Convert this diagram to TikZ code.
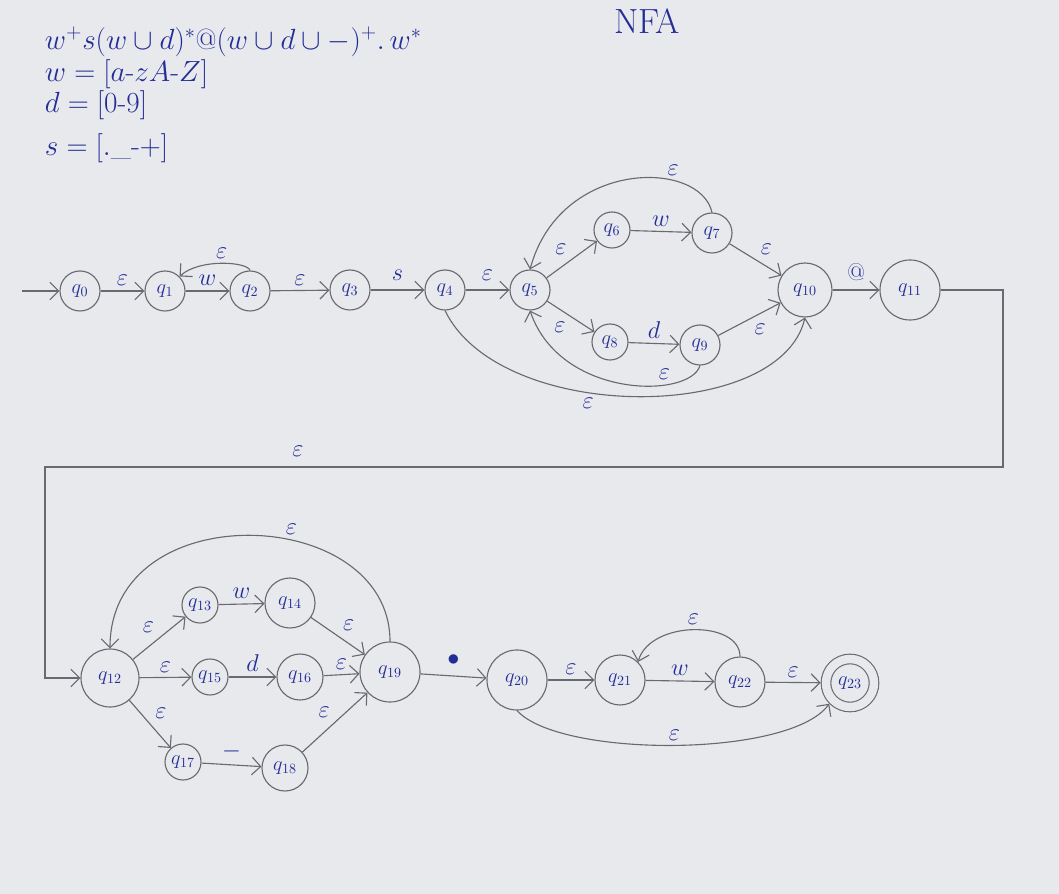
\documentclass[tikz,border=0pt]{standalone}
\usepackage{amsmath}
\usetikzlibrary{arrows.meta}
\definecolor{paper}{RGB}{232,233,237}
\definecolor{ink}{RGB}{35,45,150}
\definecolor{pencil}{RGB}{105,105,112}

\begin{document}
\begin{tikzpicture}[x=0.025cm,y=0.025cm,
  ray/.style={-{Straight Barb[length=2.2mm]},draw=pencil,line width=0.8pt},
  state/.style={circle,draw=pencil,line width=0.8pt,minimum size=1cm,inner sep=0pt,font=\Large,text=ink},
  smallstate/.style={state,minimum size=0.9cm},
  midstate/.style={state,minimum size=1.25cm},
  bigstate/.style={state,minimum size=1.45cm},
  accept/.style={state,minimum size=1.2cm,double=paper,double distance=6pt,outer sep=3.8pt},
  lbl/.style={font=\LARGE,text=ink},
  note/.style={font=\huge,text=ink,anchor=west},
]
\useasboundingbox (0,0) rectangle (1059,894);
\fill[paper] (0,0) rectangle (1059,894);

% regex and definitions
\node[note] (re) at (40,852) {$w^{+}s(w\cup d)^{*}@(w\cup d\cup -)^{+}.\,w^{*}$};
\node[note] (defw) at (40,820) {$w=[a\text{-}zA\text{-}Z]$};
\node[note] (defd) at (40,789) {$d=[0\text{-}9]$};
\node[note] (defs) at (40,746) {$s=[.\_\text{-}+]$};
\node[font=\Huge,text=ink] (title) at (647,873) {NFA};

% first part
\coordinate (start) at (22,603);
\node[state] (q0) at (80,603) {$q_{0}$};
\node[state] (q1) at (165,603) {$q_{1}$};
\node[state] (q2) at (250,603) {$q_{2}$};
\node[state] (q3) at (350,604) {$q_{3}$};
\node[state] (q4) at (445,604) {$q_{4}$};
\node[state] (q5) at (530,604) {$q_{5}$};
\node[smallstate] (q6) at (612,664) {$q_{6}$};
\node[state] (q7) at (712,661) {$q_{7}$};
\node[smallstate] (q8) at (610,552) {$q_{8}$};
\node[state] (q9) at (700,549) {$q_{9}$};
\node[bigstate,minimum size=1.35cm] (q10) at (805,604) {$q_{10}$};
\node[bigstate,minimum size=1.5cm] (q11) at (910,604) {$q_{11}$};

\draw[ray] (start) -- (q0);
\draw[ray] (q0) -- node[lbl,above] {$\varepsilon$} (q1);
\draw[ray] (q1) -- node[lbl,above] {$w$} (q2);
\draw[ray] (q2.north) .. controls (248,632) and (200,636) .. node[lbl,above] {$\varepsilon$} (q1.north east);
\draw[ray] (q2) -- node[lbl,above] {$\varepsilon$} (q3);
\draw[ray] (q3) -- node[lbl,above=3pt] {$s$} (q4);
\draw[ray] (q4) -- node[lbl,above=3pt] {$\varepsilon$} (q5);
\draw[ray] (q5) -- node[lbl,above left] {$\varepsilon$} (q6);
\draw[ray] (q6) -- node[lbl,above] {$w$} (q7);
\draw[ray] (q7.north) .. controls (700,735) and (560,735) .. node[lbl,above,pos=0.3] {$\varepsilon$} (q5.north);
\draw[ray] (q7) -- node[lbl,above right] {$\varepsilon$} (q10);
\draw[ray] (q5) -- node[lbl,below left] {$\varepsilon$} (q8);
\draw[ray] (q8) -- node[lbl,above] {$d$} (q9);
\draw[ray] (q9.south) .. controls (690,495) and (560,495) .. node[lbl,above,pos=0.3] {$\varepsilon$} (q5.south);
\draw[ray] (q9) -- node[lbl,below right] {$\varepsilon$} (q10);
\draw[ray] (q4.south) .. controls (500,470) and (780,470) .. node[lbl,below,pos=0.4] {$\varepsilon$} (q10.south);
\draw[ray] (q10) -- node[lbl,above=3pt] {$@$} (q11);

% link to second part
\coordinate (turnA) at (1003,604);
\coordinate (turnB) at (1003,427);
\coordinate (turnC) at (45,427);
\coordinate (turnD) at (45,216);

% second part
\node[bigstate] (q12) at (110,216) {$q_{12}$};
\node[smallstate] (q13) at (200,289) {$q_{13}$};
\node[midstate] (q14) at (290,291) {$q_{14}$};
\node[smallstate] (q15) at (210,217) {$q_{15}$};
\node[midstate,minimum size=1.15cm] (q16) at (300,217) {$q_{16}$};
\node[smallstate] (q17) at (183,132) {$q_{17}$};
\node[midstate,minimum size=1.15cm] (q18) at (285,126) {$q_{18}$};
\node[bigstate,minimum size=1.5cm] (q19) at (390,222) {$q_{19}$};
\node[bigstate,minimum size=1.5cm] (q20) at (517,214) {$q_{20}$};
\node[midstate] (q21) at (620,214) {$q_{21}$};
\node[midstate] (q22) at (740,212) {$q_{22}$};
\node[accept] (q23) at (850,211) {$q_{23}$};

\draw[ray] (q11.east) -- (turnA) -- (turnB) -- node[lbl,above=4pt,pos=0.736] {$\varepsilon$} (turnC) -- (turnD) -- (q12.west);
\draw[ray] (q12) -- node[lbl,above left] {$\varepsilon$} (q13);
\draw[ray] (q13) -- node[lbl,above] {$w$} (q14);
\draw[ray] (q14) -- node[lbl,above right] {$\varepsilon$} (q19);
\draw[ray] (q12) -- node[lbl,above] {$\varepsilon$} (q15);
\draw[ray] (q15) -- node[lbl,above] {$d$} (q16);
\draw[ray] (q16) -- node[lbl,above] {$\varepsilon$} (q19);
\draw[ray] (q12) -- node[lbl,above right] {$\varepsilon$} (q17);
\draw[ray] (q17) -- node[lbl,above] {$-$} (q18);
\draw[ray] (q18) -- node[lbl,above left] {$\varepsilon$} (q19);
\draw[ray] (q19.north) .. controls (390,390) and (110,400) .. node[lbl,above,pos=0.4] {$\varepsilon$} (q12.north);
\draw[ray] (q19) -- node[lbl,above=4pt] {$\bullet$} (q20);
\draw[ray] (q20) -- node[lbl,above] {$\varepsilon$} (q21);
\draw[ray] (q21) -- node[lbl,above] {$w$} (q22);
\draw[ray] (q22.north) .. controls (740,274) and (650,274) .. node[lbl,above] {$\varepsilon$} (q21.north east);
\draw[ray] (q22) -- node[lbl,above] {$\varepsilon$} (q23);
\draw[ray] (q20.south) .. controls (560,136) and (790,136) .. node[lbl,above,pos=0.5] {$\varepsilon$} (q23.south west);
\end{tikzpicture}
\end{document}
